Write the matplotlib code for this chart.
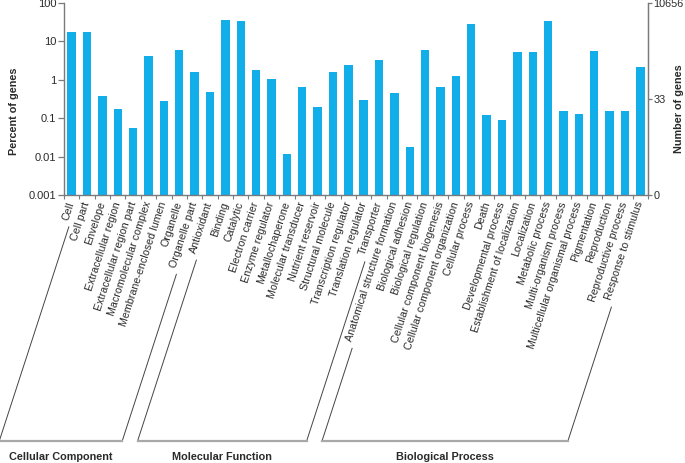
import numpy as np
import matplotlib
matplotlib.use("Agg")
import matplotlib.pyplot as plt
from matplotlib.lines import Line2D
from matplotlib.ticker import FixedLocator, NullLocator

plt.rcParams['font.family'] = ['Liberation Sans', 'DejaVu Sans']

# ---------------- data ----------------
cc_terms = ["Cell", "Cell part", "Envelope", "Extracellular region",
            "Extracellular region part", "Macromolecular complex",
            "Membrane-enclosed lumen", "Organelle", "Organelle part"]
cc_pct = [17.1, 17.1, 0.37, 0.175, 0.054, 4.2, 0.28, 5.8, 1.63]

mf_terms = ["Antioxidant", "Binding", "Catalytic", "Electron carrier",
            "Enzyme regulator", "Metallochaperone", "Molecular transducer",
            "Nutrient reservoir", "Structural molecule",
            "Transcription regulator", "Translation regulator", "Transporter"]
mf_pct = [0.47, 36.6, 33.5, 1.81, 1.07, 0.0119, 0.64, 0.193, 1.6, 2.38, 0.306, 3.29]

bp_terms = ["Anatomical structure formation", "Biological adhesion",
            "Biological regulation", "Cellular component biogenesis",
            "Cellular component organization", "Cellular process", "Death",
            "Developmental process", "Establishment of localization",
            "Localization", "Metabolic process", "Multi-organism process",
            "Multicellular organismal process", "Pigmentation", "Reproduction",
            "Reproductive process", "Response to stimulus"]
bp_pct = [0.466, 0.018, 6.1, 0.665, 1.28, 28.3, 0.122, 0.092, 5.4, 5.4, 33.9,
          0.158, 0.127, 5.7, 0.158, 0.158, 2.2]

group_names = ["Cellular Component", "Molecular Function", "Biological Process"]
left_ticks = [0.001, 0.01, 0.1, 1, 10, 100]
left_ticklabels = ["0.001", "0.01", "0.1", "1", "10", "100"]
total_genes = 10656
right_counts = [0, 33, 10656]

# ---------------- figure ----------------
W, H = 685, 463
fig = plt.figure(figsize=(W / 100, H / 100), dpi=100)
ax = fig.add_axes([64 / W, 1 - 195 / H, (648 - 64) / W, (195 - 3) / H])

terms = cc_terms + mf_terms + bp_terms
pct = cc_pct + mf_pct + bp_pct
x = np.arange(len(terms))
bar_color = "#12aeea"
ax.bar(x, pct, width=0.55, color=bar_color, zorder=2)
ax.set_yscale("log")
ax.set_ylim(0.001, 100)
ax.set_xlim(-0.5, len(terms) - 0.5)

spine_c = "#7a7a7a"
txt_c = "#2a2a2a"
ax.spines["top"].set_visible(False)
for s in ["left", "right", "bottom"]:
    ax.spines[s].set_color(spine_c)
    ax.spines[s].set_linewidth(1.0)

ax.yaxis.set_major_locator(FixedLocator(left_ticks))
ax.yaxis.set_minor_locator(NullLocator())
ax.set_yticklabels(left_ticklabels)
ax.tick_params(axis="y", direction="out", length=4, width=0.9, color=spine_c,
               labelsize=8, labelcolor=txt_c, pad=1.5)

ax.set_xticks(x)
ax.set_xticklabels(terms, rotation=72, ha="right", va="center",
                   rotation_mode="anchor", fontsize=7.7, color=txt_c)
ax.tick_params(axis="x", which="major", length=0, pad=5)
ax.xaxis.set_minor_locator(FixedLocator(np.arange(len(terms) + 1) - 0.5))
ax.tick_params(axis="x", which="minor", length=3, width=0.8, color=spine_c)

# right axis: number of genes
ax2 = ax.twinx()
ax2.set_yscale("log")
ax2.set_ylim(0.001, 100)
right_pos = [max(c / total_genes * 100, 0.001) for c in right_counts]
ax2.yaxis.set_major_locator(FixedLocator(right_pos))
ax2.yaxis.set_minor_locator(NullLocator())
ax2.set_yticklabels([str(c) for c in right_counts])
ax2.tick_params(axis="y", direction="out", length=3, width=0.9, color=spine_c,
                labelsize=7.8, labelcolor=txt_c, pad=1.0)
for s in ["top", "left", "bottom"]:
    ax2.spines[s].set_visible(False)
ax2.spines["right"].set_color(spine_c)

fig.text(14 / W, 1 - 111 / H, "Percent of genes", rotation=90, ha="center",
         va="center", fontsize=7.8, fontweight="bold", color=txt_c)
fig.text(679 / W, 1 - 109 / H, "Number of genes", rotation=90, ha="center",
         va="center", fontsize=7.8, fontweight="bold", color=txt_c)

# ---------------- group brackets ----------------
fig.canvas.draw()
renderer = fig.canvas.get_renderer()
labels = ax.get_xticklabels()
theta = np.deg2rad(72)
c, s = np.cos(theta), np.sin(theta)
d = np.array([-c, -s])
y_base = H - 441  # px from bottom
gap = 6


def label_start(lbl):
    bb = lbl.get_window_extent(renderer)
    Wb, Hb = bb.width, bb.height
    h = (Wb * s - Hb * c) / (s * s - c * c)
    p0 = np.array([bb.x0 + h * s, bb.y0])
    ps = p0 + gap * d
    t = (ps[1] - y_base) / s
    pe = ps + t * d
    return ps, pe


sizes = [len(cc_terms), len(mf_terms), len(bp_terms)]
start = 0
for name, n in zip(group_names, sizes):
    i0, i1 = start, start + n - 1
    start += n
    ls, le = label_start(labels[i0])
    rs, re_ = label_start(labels[i1])
    for a, b in [(ls, le), (rs, re_)]:
        fig.add_artist(Line2D([a[0] / W, b[0] / W], [a[1] / H, b[1] / H],
                              transform=fig.transFigure, color="#444444",
                              lw=0.7))
    fig.add_artist(Line2D([le[0] / W, re_[0] / W], [y_base / H, y_base / H],
                          transform=fig.transFigure, color="#a8a8a8", lw=1.6))
    fig.text((le[0] + re_[0]) / 2 / W, 6 / H, name, ha="center",
             va="center", fontsize=7.8, fontweight="bold", color=txt_c)

fig.savefig("out.png", dpi=100)
